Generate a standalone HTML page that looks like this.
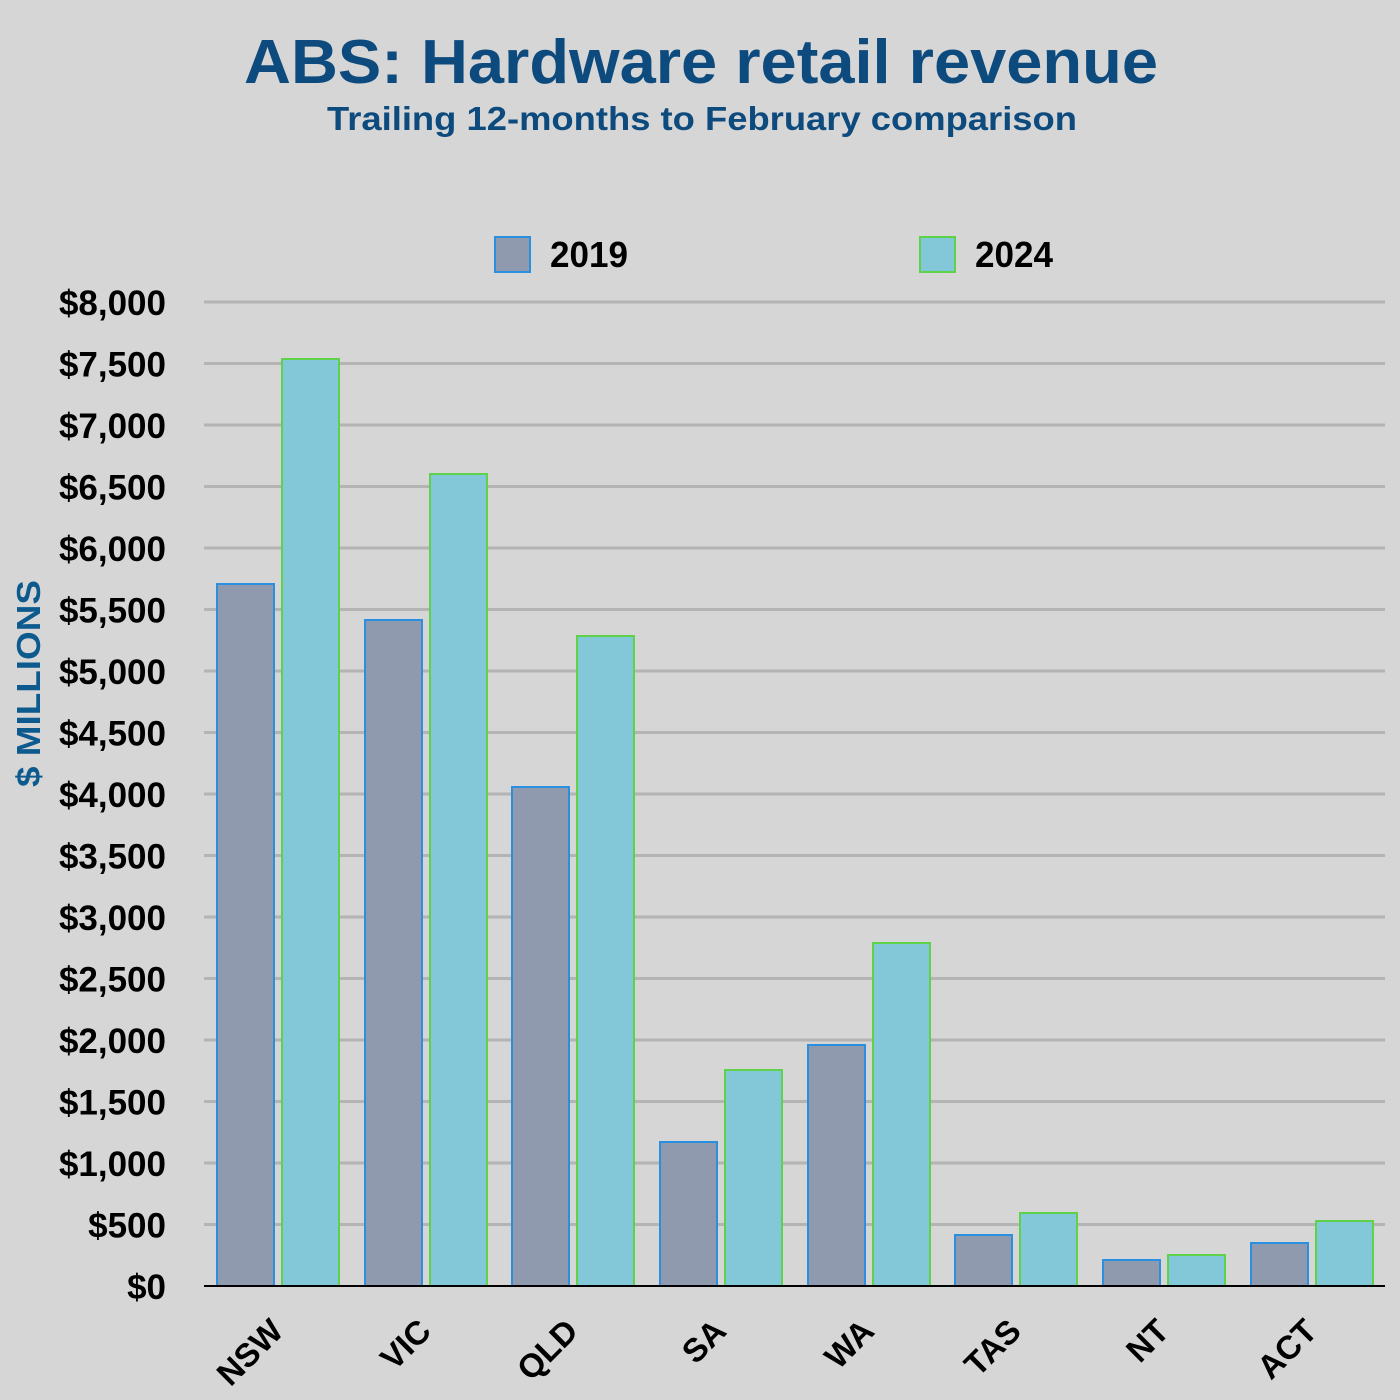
<!DOCTYPE html>
<html><head><meta charset="utf-8"><style>
html,body{margin:0;padding:0;background:#d6d6d6;}
svg{display:block;}
</style></head><body>
<svg width="1400" height="1400" viewBox="0 0 1400 1400" xmlns="http://www.w3.org/2000/svg">
<rect width="1400" height="1400" fill="#d6d6d6"/>
<text x="244" y="83" font-family="Liberation Sans, sans-serif" font-weight="bold" font-size="62" fill="#0d4a7d" textLength="914" lengthAdjust="spacingAndGlyphs">ABS: Hardware retail revenue</text>
<text x="327" y="130" font-family="Liberation Sans, sans-serif" font-weight="bold" font-size="33" fill="#0d4a7d" textLength="750" lengthAdjust="spacingAndGlyphs">Trailing 12-months to February comparison</text>
<text transform="translate(40,787) rotate(-90)" font-family="Liberation Sans, sans-serif" font-weight="bold" font-size="33" fill="#0d5a8e" textLength="207" lengthAdjust="spacingAndGlyphs">$ MILLIONS</text>
<!-- legend -->
<rect x="495" y="237" width="35" height="35" fill="#8f9aae" stroke="#2b8fe0" stroke-width="2"/>
<text x="550" y="267" font-family="Liberation Sans, sans-serif" font-weight="bold" font-size="36" fill="#000" textLength="78" lengthAdjust="spacingAndGlyphs">2019</text>
<rect x="920" y="237" width="35" height="35" fill="#82c8d8" stroke="#5fd24a" stroke-width="2"/>
<text x="975" y="267" font-family="Liberation Sans, sans-serif" font-weight="bold" font-size="36" fill="#000" textLength="78" lengthAdjust="spacingAndGlyphs">2024</text>
<!-- grid -->
<g stroke="#b4b4b4" stroke-width="3">
<line x1="204" x2="1385" y1="302" y2="302"/><line x1="204" x2="1385" y1="363.5" y2="363.5"/>
<line x1="204" x2="1385" y1="425" y2="425"/><line x1="204" x2="1385" y1="486.5" y2="486.5"/>
<line x1="204" x2="1385" y1="548" y2="548"/><line x1="204" x2="1385" y1="609.5" y2="609.5"/>
<line x1="204" x2="1385" y1="671" y2="671"/><line x1="204" x2="1385" y1="732.5" y2="732.5"/>
<line x1="204" x2="1385" y1="794" y2="794"/><line x1="204" x2="1385" y1="855.5" y2="855.5"/>
<line x1="204" x2="1385" y1="917" y2="917"/><line x1="204" x2="1385" y1="978.5" y2="978.5"/>
<line x1="204" x2="1385" y1="1040" y2="1040"/><line x1="204" x2="1385" y1="1101.5" y2="1101.5"/>
<line x1="204" x2="1385" y1="1163" y2="1163"/><line x1="204" x2="1385" y1="1224.5" y2="1224.5"/>
</g>
<g font-family="Liberation Sans, sans-serif" font-weight="bold" font-size="35" fill="#000" text-anchor="end">
<text x="166" y="315">$8,000</text><text x="166" y="376.5">$7,500</text>
<text x="166" y="438">$7,000</text><text x="166" y="499.5">$6,500</text>
<text x="166" y="561">$6,000</text><text x="166" y="622.5">$5,500</text>
<text x="166" y="684">$5,000</text><text x="166" y="745.5">$4,500</text>
<text x="166" y="807">$4,000</text><text x="166" y="868.5">$3,500</text>
<text x="166" y="930">$3,000</text><text x="166" y="991.5">$2,500</text>
<text x="166" y="1053">$2,000</text><text x="166" y="1114.5">$1,500</text>
<text x="166" y="1176">$1,000</text><text x="166" y="1237.5">$500</text>
<text x="166" y="1299">$0</text>
</g>
<!-- bars -->
<g fill="#8f9aae" stroke="#2b8fe0" stroke-width="2">
<rect x="217" y="584" width="57" height="702"/>
<rect x="365" y="620" width="57" height="666"/>
<rect x="512" y="787" width="57" height="499"/>
<rect x="660" y="1142" width="57" height="144"/>
<rect x="808" y="1045" width="57" height="241"/>
<rect x="955" y="1235" width="57" height="51"/>
<rect x="1103" y="1260" width="57" height="26"/>
<rect x="1251" y="1243" width="57" height="43"/>
</g>
<g fill="#82c8d8" stroke="#5fd24a" stroke-width="2">
<rect x="282" y="359" width="57" height="927"/>
<rect x="430" y="474" width="57" height="812"/>
<rect x="577" y="636" width="57" height="650"/>
<rect x="725" y="1070" width="57" height="216"/>
<rect x="873" y="943" width="57" height="343"/>
<rect x="1020" y="1213" width="57" height="73"/>
<rect x="1168" y="1255" width="57" height="31"/>
<rect x="1316" y="1221" width="57" height="65"/>
</g>
<line x1="204" x2="1385" y1="1286" y2="1286" stroke="#000" stroke-width="2"/>
<g font-family="Liberation Sans, sans-serif" font-weight="bold" font-size="33" fill="#000" text-anchor="end">
<text transform="translate(285,1333) rotate(-45)">NSW</text>
<text transform="translate(433,1333) rotate(-45)">VIC</text>
<text transform="translate(580,1333) rotate(-45)">QLD</text>
<text transform="translate(728,1333) rotate(-45)">SA</text>
<text transform="translate(876,1333) rotate(-45)">WA</text>
<text transform="translate(1023,1333) rotate(-45)">TAS</text>
<text transform="translate(1171,1333) rotate(-45)">NT</text>
<text transform="translate(1319,1333) rotate(-45)">ACT</text>
</g>
</svg>
</body></html>
